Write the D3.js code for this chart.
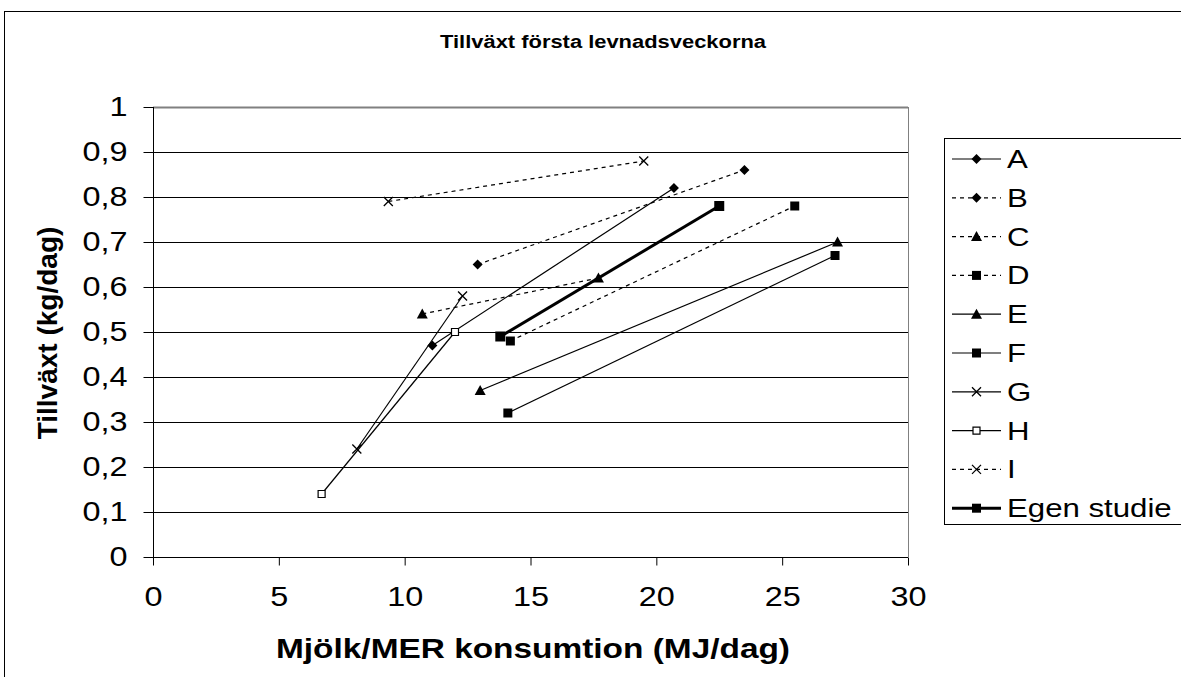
<!DOCTYPE html>
<html>
<head>
<meta charset="utf-8">
<script src="https://cdnjs.cloudflare.com/ajax/libs/d3/7.8.5/d3.min.js"></script>
<style>
  body { margin: 0; background: #fff; }
  text { font-family: Arial, "Liberation Sans", sans-serif; fill: #000; }
</style>
</head>
<body>
<div class="chartCont"></div>
<script>
const w = 1181;
const h = 677;

// series
const seriesNames = ["A", "B", "C", "D", "E", "F", "G", "H", "I", "Egen studie"];
const xValues = [
  [11.1, 20.7],
  [12.9, 23.5],
  [10.7, 17.7],
  [14.2, 25.5],
  [13.0, 27.2],
  [14.1, 27.1],
  [8.1, 12.3],
  [6.7, 12.0],
  [9.35, 19.5],
  [13.8, 22.5]
];
const yValues = [
  [0.47, 0.82],
  [0.65, 0.86],
  [0.54, 0.62],
  [0.48, 0.78],
  [0.37, 0.70],
  [0.32, 0.67],
  [0.24, 0.58],
  [0.14, 0.50],
  [0.79, 0.88],
  [0.49, 0.78]
];
const xTicks = [0, 5, 10, 15, 20, 25, 30];
const yTicks = [0, 0.1, 0.2, 0.3, 0.4, 0.5, 0.6, 0.7, 0.8, 0.9, 1];

// look of each series: dotted or not, marker, width
const look = {
  "A": {dash: null, mark: "diamond"},
  "B": {dash: "4,4", mark: "diamond"},
  "C": {dash: "4,4", mark: "triangle"},
  "D": {dash: "4,4", mark: "square"},
  "E": {dash: null, mark: "triangle"},
  "F": {dash: null, mark: "square"},
  "G": {dash: null, mark: "x"},
  "H": {dash: null, mark: "open"},
  "I": {dash: "4,4", mark: "x"},
  "Egen studie": {dash: null, mark: "square", width: 3, big: true}
};

const plot = {left: 153, right: 908, top: 107, bottom: 557};
const stretch = 1.2; // the old chart drew its text a bit wide

const svg = d3.select(".chartCont").append("svg")
    .attr("width", w)
    .attr("height", h);

// outer chart frame
svg.append("rect")
    .attr("x", 4.5).attr("y", 11.5)
    .attr("width", w + 10).attr("height", h + 10)
    .attr("fill", "#fff")
    .attr("stroke", "#000");

const x = d3.scaleLinear().domain([0, 30]).range([plot.left, plot.right]);
const y = d3.scaleLinear().domain([0, 1]).range([plot.bottom, plot.top]);

// gridlines
svg.append("g").selectAll("line")
    .data(yTicks.filter(d => d > 0))
    .enter().append("line")
    .attr("x1", plot.left).attr("x2", plot.right)
    .attr("y1", d => Math.round(y(d)) + 0.5)
    .attr("y2", d => Math.round(y(d)) + 0.5)
    .attr("stroke", d => d === 1 ? "#808080" : "#000")
    .attr("stroke-width", d => d === 1 ? 2 : 1);

// right edge of plot area
svg.append("line")
    .attr("x1", plot.right + 0.5).attr("x2", plot.right + 0.5)
    .attr("y1", plot.top).attr("y2", plot.bottom)
    .attr("stroke", "#808080");

// axes
const xAxis = d3.axisBottom(x).tickValues(xTicks).tickSize(8)
    .tickFormat(d3.format("d"));
const yAxis = d3.axisLeft(y).tickValues(yTicks).tickSize(10)
    .tickFormat(d => d === 0 || d === 1 ? String(d) : String(d).replace(".", ","));

const gx = svg.append("g")
    .attr("transform", `translate(0,${plot.bottom + 0.5})`)
    .call(xAxis);
const gy = svg.append("g")
    .attr("transform", `translate(${plot.left + 0.5},0)`)
    .call(yAxis);

[gx, gy].forEach(g => {
  g.select(".domain").attr("stroke", "#000");
  g.selectAll(".tick line").attr("stroke", "#000");
  g.selectAll(".tick text")
      .style("font-family", "Arial, 'Liberation Sans', sans-serif")
      .style("font-size", "27px")
      .attr("fill", "#000");
});
gx.selectAll(".tick text")
    .attr("y", 0)
    .attr("transform", `translate(0,29) scale(${stretch},1)`);
gy.selectAll(".tick text")
    .attr("x", 0)
    .attr("transform", `translate(-26,0) scale(${stretch},1)`);
gx.select(".domain").attr("d", `M${plot.left},0H${plot.right}`);
gy.select(".domain").attr("d", `M0,${plot.bottom}V${plot.top}`);

// markers
function markPath(kind, big) {
  const s = big ? 5 : 4.5;
  if (kind === "diamond") return `M0,${-s - 0.5}L${s + 0.5},0L0,${s + 0.5}L${-s - 0.5},0Z`;
  if (kind === "triangle") return `M0,${-s - 1}L${s + 1},${s}L${-s - 1},${s}Z`;
  if (kind === "square") return `M${-s},${-s}H${s}V${s}H${-s}Z`;
  if (kind === "open") return "M-3.5,-3.5H3.5V3.5H-3.5Z";
  if (kind === "x") return `M${-s},${-s}L${s},${s}M${s},${-s}L${-s},${s}`;
}

function drawMark(g, kind, big, cx, cy) {
  const p = g.append("path")
      .attr("transform", `translate(${cx},${cy})`)
      .attr("d", markPath(kind, big));
  if (kind === "x") {
    p.attr("fill", "none").attr("stroke", "#000").attr("stroke-width", 1.3);
  } else if (kind === "open") {
    p.attr("fill", "#fff").attr("stroke", "#000").attr("stroke-width", 1.2);
  } else {
    p.attr("fill", "#000");
  }
}

const line = d3.line().x(d => x(d[0])).y(d => y(d[1]));
const gData = svg.append("g");

seriesNames.forEach((name, i) => {
  const pts = xValues[i].map((v, j) => [v, yValues[i][j]]);
  const lk = look[name];
  gData.append("path")
      .datum(pts)
      .attr("d", line)
      .attr("fill", "none")
      .attr("stroke", "#000")
      .attr("stroke-width", lk.width || 1.2)
      .attr("stroke-dasharray", lk.dash);
  pts.forEach(p => drawMark(gData, lk.mark, lk.big, x(p[0]), y(p[1])));
});

// legend
const legTop = 138;
const legStep = 38.8;
const legend = svg.append("g");
legend.append("rect")
    .attr("x", 944.5).attr("y", legTop + 0.5)
    .attr("width", 300).attr("height", 386)
    .attr("fill", "#fff").attr("stroke", "#000");

seriesNames.forEach((name, i) => {
  const ly = 159 + i * legStep;
  const lk = look[name];
  legend.append("line")
      .attr("x1", 952).attr("x2", 1001)
      .attr("y1", ly).attr("y2", ly)
      .attr("stroke", "#000")
      .attr("stroke-width", lk.width || 1.2)
      .attr("stroke-dasharray", lk.dash);
  drawMark(legend, lk.mark, false, 976.5, ly);
  legend.append("text")
      .attr("transform", `translate(1007,${ly + 9}) scale(${stretch},1)`)
      .style("font-size", "26px")
      .text(name);
});

// titles
svg.append("text")
    .attr("x", 603).attr("y", 48)
    .attr("text-anchor", "middle")
    .attr("textLength", 326)
    .attr("lengthAdjust", "spacingAndGlyphs")
    .style("font-size", "18px")
    .style("font-weight", "bold")
    .text("Tillväxt första levnadsveckorna");

svg.append("text")
    .attr("x", 533).attr("y", 658)
    .attr("text-anchor", "middle")
    .attr("textLength", 514)
    .attr("lengthAdjust", "spacingAndGlyphs")
    .style("font-size", "28px")
    .style("font-weight", "bold")
    .text("Mjölk/MER konsumtion (MJ/dag)");

svg.append("text")
    .attr("transform", "translate(57,333) rotate(-90)")
    .attr("text-anchor", "middle")
    .style("font-size", "28px")
    .style("font-weight", "bold")
    .text("Tillväxt (kg/dag)");
</script>
</body>
</html>
